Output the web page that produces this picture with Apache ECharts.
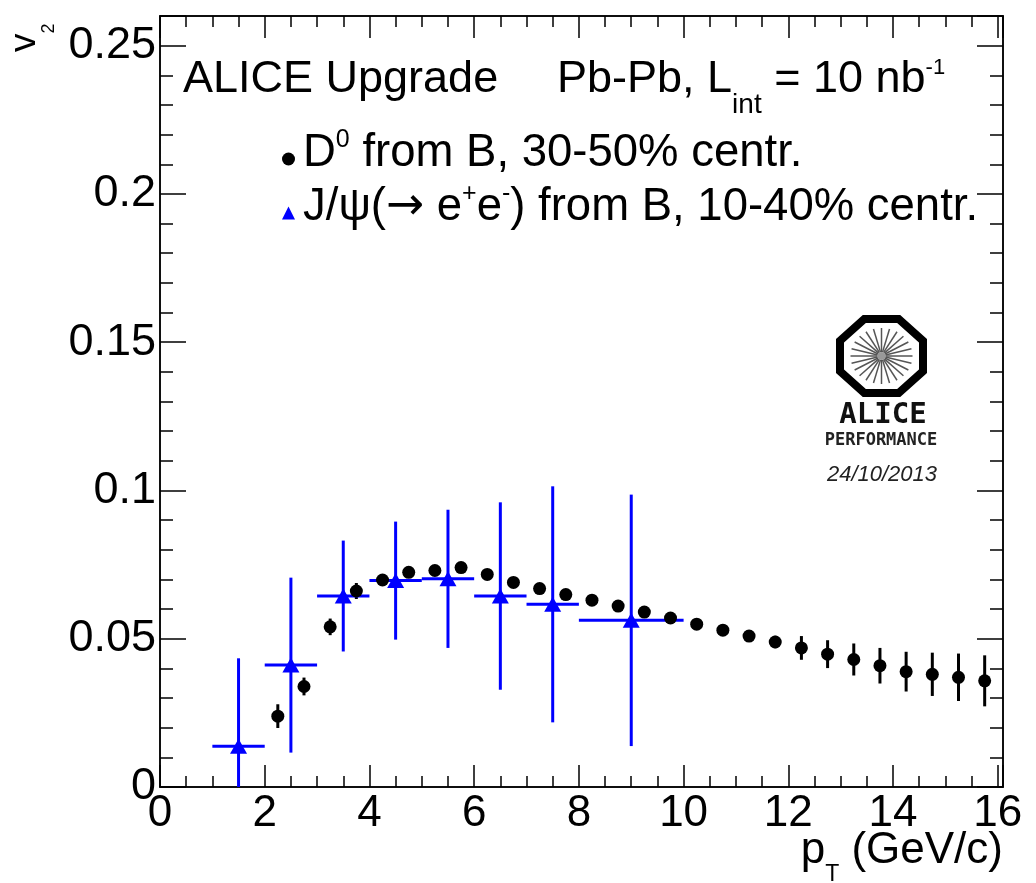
<!DOCTYPE html>
<html><head><meta charset="utf-8">
<script src="https://cdn.jsdelivr.net/npm/echarts@6/dist/echarts.min.js"></script>
<style>html,body{margin:0;padding:0;background:#fff}#c{width:1036px;height:883px}</style>
</head><body><div id="c"></div>
<script>
// ---- data ----
const d0X   = [2.25,2.75,3.25,3.75,4.25,4.75,5.25,5.75,6.25,6.75,7.25,7.75,8.25,8.75,9.25,9.75,10.25,10.75,11.25,11.75,12.25,12.75,13.25,13.75,14.25,14.75,15.25,15.75];
const d0V   = [0.0239,0.0339,0.0540,0.0661,0.0698,0.0724,0.0730,0.0740,0.0717,0.0690,0.0669,0.0649,0.0630,0.0610,0.0590,0.0570,0.0549,0.0529,0.0509,0.0489,0.0469,0.0448,0.0430,0.0409,0.0389,0.0380,0.0370,0.0358];
const d0Err = [0.0040,0.0030,0.0028,0.0027,0.0016,0.0014,0.0013,0.0013,0.0013,0.0013,0.0013,0.0014,0.0014,0.0015,0.0016,0.0017,0.0018,0.0019,0.0020,0.0021,0.0040,0.0047,0.0054,0.0060,0.0067,0.0073,0.0080,0.0086];
const jpsiX   = [1.5,2.5,3.5,4.5,5.5,6.5,7.5,9];
const jpsiLo  = [1,2,3,4,5,6,7,8];
const jpsiHi  = [2,3,4,5,6,7,8,10];
const jpsiV   = [0.0137,0.0411,0.0644,0.0696,0.0702,0.0644,0.0616,0.0562];
const jpsiErr = [0.0297,0.0295,0.0187,0.0199,0.0233,0.0316,0.0398,0.0424];
const xTickLabels = ['0','2','4','6','8','10','12','14','16'];
const yTickLabels = ['0','0.05','0.1','0.15','0.2','0.25'];

const FONT = 'Liberation Sans';
const chart = echarts.init(document.getElementById('c'), null, {renderer:'canvas'});

function xAx(pos, interval, len, labels) {
  return {
    type:'value', position:pos, min:0, max:16.1, interval:interval,
    axisLine:{show:true, onZero:false, lineStyle:{color:'#000', width:1.5}},
    axisTick:{show:true, inside:true, length:len, lineStyle:{color:'#000', width:1.5}},
    axisLabel:{show:labels, inside:false, margin:5, color:'#000', fontFamily:FONT, fontSize:44,
      formatter: v => { const r = Math.round(v); return (Math.abs(v-r)<1e-6 && r%2===0) ? xTickLabels[r/2] : ''; }},
    splitLine:{show:false}, minorTick:{show:false}, minorSplitLine:{show:false}
  };
}
function yAx(pos, interval, len, labels) {
  return {
    type:'value', position:pos, min:0, max:0.26, interval:interval,
    axisLine:{show:true, onZero:false, lineStyle:{color:'#000', width:1.5}},
    axisTick:{show:true, inside:true, length:len, lineStyle:{color:'#000', width:1.5}},
    axisLabel:{show:labels, inside:false, margin:4, color:'#000', fontFamily:FONT, fontSize:45,
      formatter: v => { const k = Math.round(v/0.05); return (Math.abs(v-k*0.05)<1e-6 && k<yTickLabels.length) ? yTickLabels[k] : ''; }},
    splitLine:{show:false}, minorTick:{show:false}, minorSplitLine:{show:false}
  };
}

// logo spokes
const logoCx = 881.5, logoCy = 356;
const spokes = [];
for (let k = 0; k < 24; k++) {
  const a = k * Math.PI / 12;
  spokes.push({type:'line', silent:true,
    shape:{x1:logoCx + 4*Math.cos(a), y1:logoCy + 4*Math.sin(a), x2:logoCx + 31*Math.cos(a), y2:logoCy + 28*Math.sin(a)},
    style:{stroke:'#555', lineWidth:1.5}});
}
const hx = 41.5, hy = 37, t = Math.tan(Math.PI/8);
const octPts = [[hx, t*hy],[t*hx, hy],[-t*hx, hy],[-hx, t*hy],[-hx,-t*hy],[-t*hx,-hy],[t*hx,-hy],[hx,-t*hy]].map(p=>[logoCx+p[0], logoCy+p[1]]);

const option = {
  animation:false,
  backgroundColor:'#fff',
  grid:{left:160, right:33, top:16, bottom:96, containLabel:false, outerBoundsMode:'none'},
  xAxis:[xAx('bottom',2,22,true), xAx('bottom',0.5,11,false), xAx('top',2,22,false), xAx('top',0.5,11,false)],
  yAxis:[yAx('left',0.05,26,true), yAx('left',0.01,13,false), yAx('right',0.05,26,false), yAx('right',0.01,13,false)],
  legend:{
    orient:'vertical', left:282, top:128, itemWidth:13, itemHeight:13, itemGap:6, padding:0,
    selectedMode:false,
    data:[{name:'D0', icon:'circle'}, {name:'Jpsi', icon:'triangle'}],
    formatter: n => n === 'D0'
      ? '{m|D}{s|0}{m| from B, 30-50% centr.}'
      : '{m|J/\u03c8(}{a|\u2192}{m| e}{s|+}{m|e}{s|-}{m|) from B, 10-40% centr.}',
    textStyle:{color:'#000', fontFamily:FONT, fontSize:45.5, padding:[0,0,14,3],
      rich:{
        m:{fontFamily:FONT, fontSize:45.5, lineHeight:45, verticalAlign:'bottom', color:'#000'},
        a:{fontFamily:'DejaVu Sans', fontSize:45.5, lineHeight:45, verticalAlign:'bottom', color:'#000'},
        s:{fontFamily:FONT, fontSize:25, lineHeight:48, verticalAlign:'top', color:'#000'}
      }}
  },
  series:[
    {type:'custom', name:'D0err', xAxisIndex:0, yAxisIndex:0, clip:true, z:2,
     data:d0X.map((x,i)=>[x, d0V[i], d0Err[i]]),
     encode:{x:0, y:1},
     renderItem:(p, api) => {
       const x = api.value(0), v = api.value(1), e = api.value(2);
       const a = api.coord([x, v-e]), b = api.coord([x, v+e]);
       return {type:'line', shape:{x1:a[0], y1:a[1], x2:b[0], y2:b[1]}, style:{stroke:'#000', lineWidth:3}};
     }},
    {type:'custom', name:'Jpsierr', xAxisIndex:0, yAxisIndex:0, clip:true, z:2,
     data:jpsiX.map((x,i)=>[x, jpsiV[i], jpsiErr[i], jpsiLo[i], jpsiHi[i]]),
     encode:{x:0, y:1},
     renderItem:(p, api) => {
       const x = api.value(0), v = api.value(1), e = api.value(2), lo = api.value(3), hi = api.value(4);
       const a = api.coord([x, Math.max(0, v-e)]), b = api.coord([x, v+e]);
       const l = api.coord([lo, v]), r = api.coord([hi, v]);
       return {type:'group', children:[
         {type:'line', shape:{x1:a[0], y1:a[1], x2:b[0], y2:b[1]}, style:{stroke:'#0000ff', lineWidth:3}},
         {type:'line', shape:{x1:l[0], y1:l[1], x2:r[0], y2:r[1]}, style:{stroke:'#0000ff', lineWidth:3}}
       ]};
     }},
    {type:'scatter', name:'D0', xAxisIndex:0, yAxisIndex:0, z:5,
     symbol:'circle', symbolSize:13, itemStyle:{color:'#000', opacity:1},
     data:d0X.map((x,i)=>[x, d0V[i]])},
    {type:'scatter', name:'Jpsi', xAxisIndex:0, yAxisIndex:0, z:5,
     symbol:'triangle', symbolSize:[17,15], itemStyle:{color:'#0000ff', opacity:1},
     data:jpsiX.map((x,i)=>[x, jpsiV[i]])}
  ],
  graphic:[
    {type:'text', x:183, y:57, silent:true,
     style:{text:'ALICE Upgrade', fontFamily:FONT, fontSize:45, fill:'#000', verticalAlign:'top'}},
    {type:'text', x:557, y:57, silent:true,
     style:{text:'{m|Pb-Pb, L}{b|int}{m| = 10 nb}{p|-1}', verticalAlign:'top', fill:'#000',
       rich:{
         m:{fontFamily:FONT, fontSize:45, lineHeight:45, verticalAlign:'top', fill:'#000'},
         b:{fontFamily:FONT, fontSize:28, lineHeight:62, verticalAlign:'bottom', fill:'#000'},
         p:{fontFamily:FONT, fontSize:22, lineHeight:22, verticalAlign:'top', fill:'#000'}
       }}},
    {type:'text', x:1003, y:829, silent:true,
     style:{text:'{m|p}{b|T}{m| (GeV/c)}', align:'right', verticalAlign:'top', fill:'#000',
       rich:{
         m:{fontFamily:FONT, fontSize:44, lineHeight:44, verticalAlign:'top', fill:'#000'},
         b:{fontFamily:FONT, fontSize:23, lineHeight:57, verticalAlign:'bottom', fill:'#000'}
       }}},
    {type:'text', x:37, y:52, rotation:Math.PI/2, silent:true,
     style:{text:'{m|v}{b|2}', x:0, y:-31, align:'left', verticalAlign:'top', fill:'#000',
       rich:{
         m:{fontFamily:FONT, fontSize:37, lineHeight:38, verticalAlign:'top', fill:'#000'},
         b:{fontFamily:FONT, fontSize:18, lineHeight:52, verticalAlign:'bottom', fill:'#000'}
       }}},
    {type:'polygon', silent:true, shape:{points:octPts}, style:{fill:'#fff', stroke:'#000', lineWidth:8, lineJoin:'miter'}},
    {type:'group', silent:true, children:spokes},
    {type:'circle', silent:true, shape:{cx:logoCx, cy:logoCy, r:4}, style:{fill:'#999'}},
    {type:'text', x:883, y:415, silent:true,
     style:{text:'ALICE', fontFamily:'DejaVu Sans Mono', fontWeight:'bold', fontSize:29, fill:'#111', align:'center', verticalAlign:'middle'}},
    {type:'text', x:881, y:441, silent:true,
     style:{text:'PERFORMANCE', fontFamily:'DejaVu Sans Mono', fontWeight:'bold', fontSize:17, fill:'#222', align:'center', verticalAlign:'middle'}},
    {type:'text', x:882, y:475, silent:true,
     style:{text:'24/10/2013', fontFamily:FONT, fontStyle:'italic', fontSize:22, fill:'#222', align:'center', verticalAlign:'middle'}}
  ]
};
chart.setOption(option);
</script></body></html>
